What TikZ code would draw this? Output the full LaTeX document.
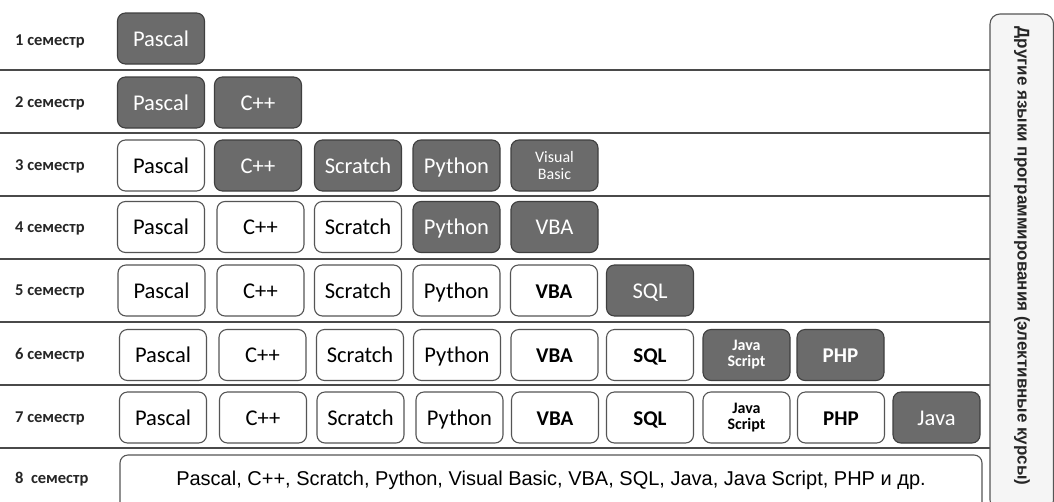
\documentclass[tikz,border=0pt]{standalone}
\usepackage{fontspec}
\setmainfont{Carlito}
\newfontfamily\helv{Liberation Sans}
\definecolor{dkfill}{HTML}{6B6B6B}
\definecolor{dkline}{HTML}{3F3F3F}
\definecolor{ltline}{HTML}{555555}
\definecolor{sepline}{HTML}{4A4A4A}
\begin{document}
\begin{tikzpicture}[x=1pt,y=-1pt,
  box/.style={rounded corners=8pt, minimum width=87pt, minimum height=51pt, inner sep=0pt, line width=1.1pt, align=center, font=\fontsize{22.5}{24}\selectfont, text height=18pt, text depth=3pt},
  dk/.style={box, fill=dkfill, draw=dkline, text=white},
  lt/.style={box, fill=white, draw=ltline, text=black},
  small/.style={font=\fontsize{16}{17}\selectfont, text height=, text depth=},
  smallb/.style={font=\fontsize{16}{16}\selectfont\bfseries, text height=, text depth=},
  bf/.style={font=\fontsize{21}{22}\selectfont\bfseries},
  sem/.style={anchor=west, inner sep=0pt, font=\fontsize{16.5}{17}\selectfont\bfseries, text=black!85},
  sep/.style={draw=sepline, line width=1.1pt}]
\useasboundingbox (0,0) rectangle (1054,501);
\fill[white] (0,0) rectangle (1054,501);
% separators
\foreach \yy/\nm in {70/a,133/b,196/c,259/d,322/e,385/f,448/g} {
  \coordinate (sl\nm) at (0,\yy); \coordinate (sr\nm) at (990,\yy);
  \draw[sep] (sl\nm) -- (sr\nm);
}
% right panel
\begin{scope}
\clip (0,0) rectangle (1054,501);
\draw[draw=ltline, fill=black!4, line width=1.1pt, rounded corners=10pt] (990,14) rectangle (1053.5,510);
\end{scope}
\node[rotate=-90, inner sep=0pt, font=\helv\fontsize{17}{18}\selectfont\bfseries, text=black!85] (other) at (1022,256) {Другие языки программирования (элективные курсы)};
% semester labels
\node[sem] (s1) at (15,41) {1 семестр};
\node[sem] (s2) at (15,103) {2 семестр};
\node[sem] (s3) at (15,166) {3 семестр};
\node[sem] (s4) at (15,228) {4 семестр};
\node[sem] (s5) at (15,291) {5 семестр};
\node[sem] (s6) at (15,355) {6 семестр};
\node[sem] (s7) at (15,418) {7 семестр};
\node[sem] (s8) at (15,479) {8~~семестр};
% row 1
\node[dk] (p1) at (161,38.5) {Pascal};
% row 2
\node[dk] (p2) at (161,102.5) {Pascal};
\node[dk] (c2) at (258,102.5) {C++};
% row 3
\node[lt] (p3) at (161,165.5) {Pascal};
\node[dk] (c3) at (258,165.5) {C++};
\node[dk] (sc3) at (358,165.5) {Scratch};
\node[dk] (py3) at (456.5,165.5) {Python};
\node[dk,small] (vb3) at (554.5,165.5) {Visual\\Basic};
% row 4
\node[lt] (p4) at (161,227) {Pascal};
\node[lt] (c4) at (260.5,227) {C++};
\node[lt] (sc4) at (358,227) {Scratch};
\node[dk] (py4) at (456.5,227) {Python};
\node[dk] (vba4) at (554.5,227) {VBA};
% row 5
\node[lt] (p5) at (161.5,290.5) {Pascal};
\node[lt] (c5) at (260.5,290.5) {C++};
\node[lt] (sc5) at (358,290.5) {Scratch};
\node[lt] (py5) at (456.5,290.5) {Python};
\node[lt,bf] (vba5) at (554,290.5) {VBA};
\node[dk] (sql5) at (650,290.5) {SQL};
% row 6
\node[lt] (p6) at (163,355) {Pascal};
\node[lt] (c6) at (262.5,355) {C++};
\node[lt] (sc6) at (360,355) {Scratch};
\node[lt] (py6) at (457,355) {Python};
\node[lt,bf] (vba6) at (554.5,355) {VBA};
\node[lt,bf] (sql6) at (650,355) {SQL};
\node[dk,smallb] (js6) at (746.5,355) {Java\\Script};
\node[dk,bf] (php6) at (840.5,355) {PHP};
% row 7
\node[lt] (p7) at (163,417.5) {Pascal};
\node[lt] (c7) at (263,417.5) {C++};
\node[lt] (sc7) at (360.5,417.5) {Scratch};
\node[lt] (py7) at (459.5,417.5) {Python};
\node[lt,bf] (vba7) at (555,417.5) {VBA};
\node[lt,bf] (sql7) at (650,417.5) {SQL};
\node[lt,smallb] (js7) at (746.5,417.5) {Java\\Script};
\node[lt,bf] (php7) at (841,417.5) {PHP};
\node[dk] (j7) at (936.5,417.5) {Java};
% row 8
\begin{scope}
\clip (0,0) rectangle (1054,501);
\draw[draw=ltline, fill=white, line width=1.1pt, rounded corners=8pt] (120,455) rectangle (982,512);
\end{scope}
\node[inner sep=0pt, font=\helv\fontsize{20}{21}\selectfont] (all8) at (551,480) {Pascal, C++, Scratch, Python, Visual Basic, VBA, SQL, Java, Java Script, PHP и др.};
\end{tikzpicture}
\end{document}
